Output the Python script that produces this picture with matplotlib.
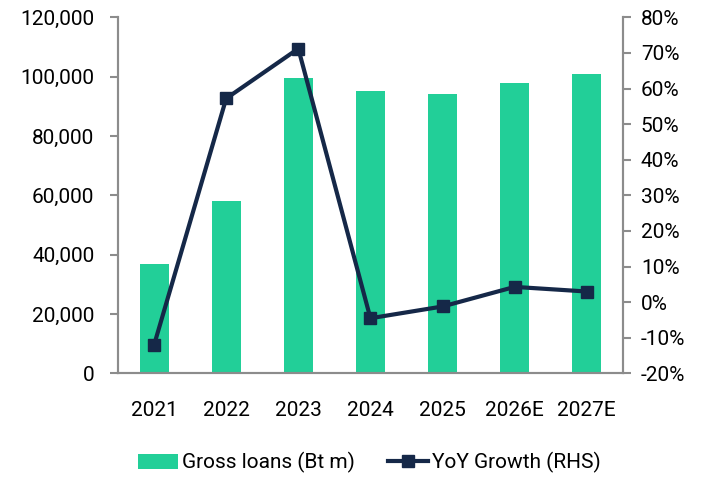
import matplotlib
matplotlib.use("Agg")
import matplotlib.pyplot as plt
from matplotlib.ticker import FuncFormatter, MultipleLocator

# data
years = ["2021", "2022", "2023", "2024", "2025", "2026E", "2027E"]
gross_loans = [37000, 58000, 99500, 95000, 94000, 98000, 101000]
yoy_growth = [-12.0, 57.2, 71.2, -4.5, -1.2, 4.3, 3.0]

green = "#22CF98"
navy = "#152848"
grey = "#8c8c8c"

plt.rcParams["font.family"] = ["Roboto", "DejaVu Sans"]

fig = plt.figure(figsize=(7.11, 4.8), dpi=100)
ax = fig.add_axes([0.166, 0.222, 0.710, 0.742])
x = range(len(years))
bars = ax.bar(x, gross_loans, width=0.4, color=green, label="Gross loans (Bt m)", zorder=2)
ax.set_xlim(-0.5, len(years) - 0.5)
ax.set_ylim(0, 120000)
ax.yaxis.set_major_locator(MultipleLocator(20000))
ax.yaxis.set_major_formatter(FuncFormatter(lambda v, p: f"{v:,.0f}"))
ax.set_xticks(list(x))
ax.set_xticklabels(years)

ax2 = ax.twinx()
line, = ax2.plot(x, yoy_growth, color=navy, lw=3, marker="s", ms=9,
                 label="YoY Growth (RHS)", zorder=3)
ax2.set_ylim(-20, 80)
ax2.yaxis.set_major_locator(MultipleLocator(10))
ax2.yaxis.set_major_formatter(FuncFormatter(lambda v, p: f"{v:.0f}%"))

for a in (ax, ax2):
    a.spines["top"].set_visible(False)
    for s in ("left", "right", "bottom"):
        a.spines[s].set_color(grey)
        a.spines[s].set_linewidth(1.5)
    a.tick_params(axis="y", colors=grey, labelcolor="black", labelsize=15,
                  length=6, width=1.5)
    a.tick_params(axis="x", length=0, labelsize=15, pad=20)
ax.tick_params(axis="y", pad=11)
ax2.tick_params(axis="y", pad=7)
ax.set_zorder(0)
ax2.set_zorder(1)

fig.legend([bars, line], ["Gross loans (Bt m)", "YoY Growth (RHS)"],
           loc="lower center", bbox_to_anchor=(0.52, -0.025), ncol=2, frameon=False,
           fontsize=15, handlelength=1.9, columnspacing=1.6, handletextpad=0.2)

fig.savefig("out.png", dpi=100)
